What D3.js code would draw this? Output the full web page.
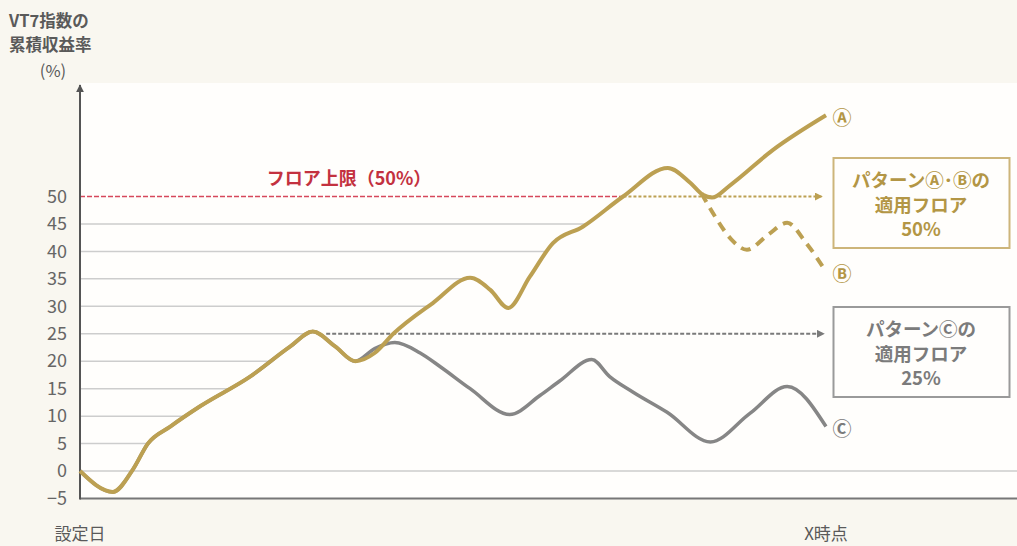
<!DOCTYPE html>
<html>
<head>
<meta charset="utf-8">
<script src="https://cdn.jsdelivr.net/npm/d3@7"></script>
<style>
  body { margin: 0; background: #f9f7f0; }
  svg { display: block; font-family: "Noto Sans CJK JP", sans-serif; }
</style>
</head>
<body>
<div id="chart-area"></div>
<script>
const WIDTH = 1017;
const HEIGHT = 546;

// time runs from 設定日 (0) to X時点 (100); values are cumulative return in %
const shared = [[0, 0], [4.4, -3.8], [7.1, 0.3], [9.1, 5], [12.1, 8.1], [16.1, 11.8],
  [22.8, 17.2], [28.2, 22.7], [31.2, 25.4], [34.2, 22.7], [36.9, 20]];
const tailA = [[39.5, 21.5], [42.0, 25], [47.3, 30.6], [52.3, 35.2], [55.0, 33],
  [57.4, 29.7], [60.3, 35.4], [63.4, 41.5], [67.4, 44.5], [72.8, 50], [78.8, 55.2],
  [81.8, 52.5], [83.5, 50.3], [84.7, 49.8], [87.1, 52], [92.9, 58.5], [100, 64.8]];
const tailB = [[83.3, 50.6], [85.2, 46.2], [87.3, 42.2], [89.4, 40.3], [92.2, 43],
  [94.8, 45.2], [97.3, 41.6], [100, 36.3]];
const tailC = [[39.5, 22.3], [42.2, 23.4], [45.6, 21.5], [48.3, 19], [52.3, 15],
  [57.6, 10.3], [61.7, 13.8], [64.3, 16.4], [68.6, 20.3], [71.0, 17.2], [74.1, 14.4],
  [78.7, 10.7], [84.5, 5.3], [89.8, 10.5], [94.8, 15.4], [100, 8.1]];

const yTicks = [50, 45, 40, 35, 30, 25, 20, 15, 10, 5, 0, -5];
const gridValues = [45, 40, 35, 30, 25, 20, 15, 10, 5];
const capValue = 50;
const floorAB = 50;
const floorC = 25;
const floorCStart = 33;

const titleLines = ['VT7指数の', '累積収益率', '(%)'];
const boxAB = ['パターンⒶ･Ⓑの', '適用フロア', '50%'];
const boxC = ['パターンⒸの', '適用フロア', '25%'];

const GOLD = '#bca052';
const GOLD_TEXT = '#b39645';
const GRAY = '#868686';
const GRAY_TEXT = '#7b7b7b';
const RED = '#d6485b';

main();

function main() {
  const svg = d3.select('#chart-area').append('svg')
    .attr('width', WIDTH)
    .attr('height', HEIGHT);

  const x = d3.scaleLinear().domain([0, 100]).range([80, 826]);
  const y = d3.scaleLinear().domain([-5, 50]).range([498.5, 196.5]);

  const defs = svg.append('defs');
  [['arrow-gold', GOLD], ['arrow-gray', '#7a7a7a'], ['arrow-axis', '#555']].forEach(([id, c]) => {
    defs.append('marker')
      .attr('id', id)
      .attr('viewBox', '0 0 10 10')
      .attr('refX', 9).attr('refY', 5)
      .attr('markerWidth', 4).attr('markerHeight', 4)
      .attr('orient', 'auto')
      .append('path')
      .attr('d', 'M0,0L10,5L0,10Z')
      .attr('fill', c);
  });

  // white plot panel
  svg.append('rect')
    .attr('x', x(0)).attr('y', 83)
    .attr('width', WIDTH - x(0)).attr('height', y(-5) - 83)
    .attr('fill', '#fffefc');

  const line = d3.line()
    .x(d => x(d[0]))
    .y(d => y(d[1]))
    .curve(d3.curveMonotoneX);

  const seriesA = shared.concat(tailA);
  const seriesC = shared.concat(tailC);

  // hidden helper path to find where gridlines meet line A
  const probe = svg.append('path')
    .attr('d', line(seriesA))
    .attr('fill', 'none')
    .attr('stroke', 'none');
  const probeNode = probe.node();
  const total = probeNode.getTotalLength();
  function firstCrossing(v) {
    const yp = y(v);
    for (let l = 0; l <= total; l += 0.5) {
      const p = probeNode.getPointAtLength(l);
      if (p.y <= yp) return p.x;
    }
    return x(100);
  }

  const grid = svg.append('g');
  grid.selectAll('line.grid')
    .data(gridValues)
    .enter()
    .append('line')
    .attr('class', 'grid')
    .attr('x1', x(0))
    .attr('x2', d => firstCrossing(d))
    .attr('y1', d => y(d))
    .attr('y2', d => y(d))
    .attr('stroke', '#cdcdcd')
    .attr('stroke-width', 1.5);

  grid.append('line')
    .attr('x1', x(0)).attr('x2', WIDTH)
    .attr('y1', y(0)).attr('y2', y(0))
    .attr('stroke', '#cdcdcd')
    .attr('stroke-width', 1.5);

  // cap line (red) then the applied floor arrow (gold)
  const capCross = firstCrossing(capValue);
  grid.append('line')
    .attr('x1', x(0)).attr('x2', capCross)
    .attr('y1', y(capValue)).attr('y2', y(capValue))
    .attr('stroke', RED)
    .attr('stroke-width', 1.5)
    .attr('stroke-dasharray', '5,2');

  grid.append('line')
    .attr('x1', capCross).attr('x2', x(100) - 4)
    .attr('y1', y(floorAB)).attr('y2', y(floorAB))
    .attr('stroke', GOLD)
    .attr('stroke-width', 2)
    .attr('stroke-dasharray', '3,2')
    .attr('marker-end', 'url(#arrow-gold)');

  grid.append('line')
    .attr('x1', x(floorCStart)).attr('x2', x(100) - 2)
    .attr('y1', y(floorC)).attr('y2', y(floorC))
    .attr('stroke', '#7a7a7a')
    .attr('stroke-width', 2)
    .attr('stroke-dasharray', '4,2')
    .attr('marker-end', 'url(#arrow-gray)');

  svg.append('text')
    .attr('x', 349)
    .attr('y', y(capValue) - 12)
    .attr('text-anchor', 'middle')
    .attr('font-size', 18)
    .attr('font-weight', 'bold')
    .attr('fill', '#c3313f')
    .text('フロア上限（50%）');

  // axes
  svg.append('line')
    .attr('x1', x(0)).attr('x2', WIDTH)
    .attr('y1', y(-5)).attr('y2', y(-5))
    .attr('stroke', '#777')
    .attr('stroke-width', 2);

  svg.append('line')
    .attr('x1', x(0)).attr('x2', x(0))
    .attr('y1', y(-5) + 1).attr('y2', 85)
    .attr('stroke', '#555')
    .attr('stroke-width', 2)
    .attr('marker-end', 'url(#arrow-axis)');

  const axisLeftCall = d3.axisLeft(y)
    .tickValues(yTicks)
    .tickSize(0)
    .tickPadding(13)
    .tickFormat(d => d < 0 ? `−${ -d }` : `${ d }`);
  const yAxis = svg.append('g')
    .attr('transform', `translate(${ x(0) }, 0)`)
    .call(axisLeftCall);
  yAxis.select('.domain').remove();
  yAxis.selectAll('text')
    .attr('font-size', 18)
    .attr('font-family', '"Noto Sans CJK JP", sans-serif')
    .attr('fill', '#666');

  // lines: C first, A on top, B dashed branch
  svg.append('path')
    .attr('d', line(seriesC))
    .attr('fill', 'none')
    .attr('stroke', GRAY)
    .attr('stroke-width', 3.5)
    .attr('stroke-linejoin', 'round');

  svg.append('path')
    .attr('d', line(tailB))
    .attr('fill', 'none')
    .attr('stroke', GOLD)
    .attr('stroke-width', 4)
    .attr('stroke-dasharray', '10,7');

  svg.append('path')
    .attr('d', line(seriesA))
    .attr('fill', 'none')
    .attr('stroke', GOLD)
    .attr('stroke-width', 4)
    .attr('stroke-linejoin', 'round');

  const ends = [
    ['Ⓐ', seriesA[seriesA.length - 1], GOLD_TEXT],
    ['Ⓑ', tailB[tailB.length - 1], GOLD_TEXT],
    ['Ⓒ', tailC[tailC.length - 1], GRAY_TEXT],
  ];
  svg.selectAll('text.end')
    .data(ends)
    .enter()
    .append('text')
    .attr('class', 'end')
    .attr('x', d => x(d[1][0]) + 16)
    .attr('y', d => y(d[1][1]) + 1)
    .attr('dominant-baseline', 'central')
    .attr('text-anchor', 'middle')
    .attr('font-size', 19)
    .attr('font-weight', 'bold')
    .attr('fill', d => d[2])
    .text(d => d[0]);

  // floor boxes
  function drawBox(lines, top, stroke, fill) {
    const g = svg.append('g');
    g.append('rect')
      .attr('x', 833.5).attr('y', top)
      .attr('width', 176).attr('height', 90)
      .attr('fill', '#fffefc')
      .attr('stroke', stroke)
      .attr('stroke-width', 2);
    g.selectAll('text')
      .data(lines)
      .enter()
      .append('text')
      .attr('x', 921)
      .attr('y', (d, i) => top + 21 + i * 24.5)
      .attr('dominant-baseline', 'central')
      .attr('text-anchor', 'middle')
      .attr('font-size', 18.5)
      .attr('font-weight', 'bold')
      .attr('fill', fill)
      .text(d => d);
  }
  drawBox(boxAB, 158, '#cdb57a', GOLD_TEXT);
  drawBox(boxC, 307, '#9a9a9a', GRAY_TEXT);

  // titles
  const title = svg.append('g')
    .attr('font-size', 16.5)
    .attr('font-weight', 'bold')
    .attr('fill', '#5a5a5a');
  title.append('text').attr('x', 9).attr('y', 27).text(titleLines[0]);
  title.append('text').attr('x', 9).attr('y', 51).text(titleLines[1]);
  title.append('text').attr('x', 53).attr('y', 77).attr('text-anchor', 'middle')
    .attr('font-weight', 'normal').text(titleLines[2]);

  svg.append('text')
    .attr('x', x(0)).attr('y', 540)
    .attr('text-anchor', 'middle')
    .attr('font-size', 17)
    .attr('fill', '#5a5a5a')
    .text('設定日');

  svg.append('text')
    .attr('x', x(100)).attr('y', 540)
    .attr('text-anchor', 'middle')
    .attr('font-size', 17)
    .attr('fill', '#5a5a5a')
    .text('X時点');
}
</script>
</body>
</html>
